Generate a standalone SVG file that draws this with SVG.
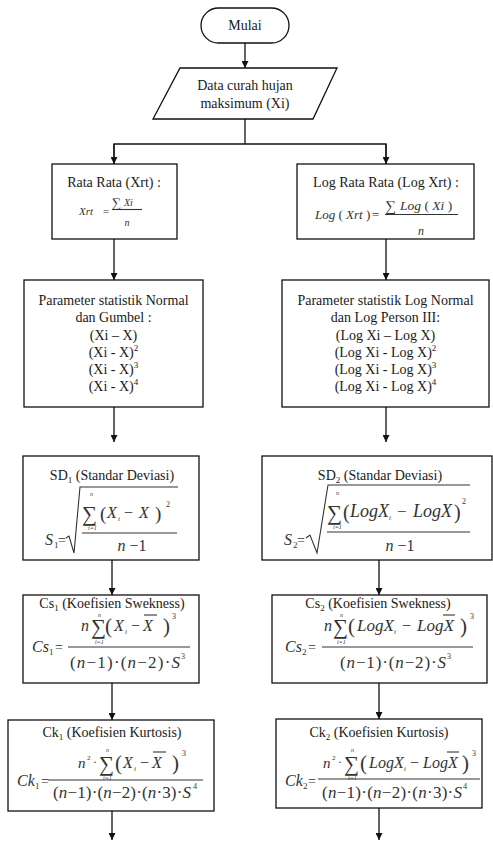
<svg xmlns="http://www.w3.org/2000/svg" width="493" height="841" viewBox="0 0 493 841">
<style>
.shape{fill:#fff;stroke:#111;stroke-width:1.3}
.conn{fill:none;stroke:#111;stroke-width:1.3}
.lbl{font-family:'Liberation Serif','DejaVu Serif',serif;font-size:14px;fill:#1a1a1a;text-anchor:middle}
.m{font-family:'Liberation Serif','DejaVu Serif',serif;font-style:italic;fill:#333}
.r{font-family:'Liberation Serif','DejaVu Serif',serif;fill:#333}
.lim{font-family:'Liberation Serif','DejaVu Serif',serif;font-size:6px;fill:#333;font-style:italic}
.bar{stroke:#333;stroke-width:1.1;fill:none}
</style>
<defs>
<marker id="ah" viewBox="0 0 10 10" refX="10" refY="5" markerWidth="8" markerHeight="7" markerUnits="userSpaceOnUse" orient="auto">
<path d="M0,0 L10,5 L0,10 z" fill="#111"/>
</marker>
</defs>

<g id="connectors">
<line class="conn" x1="245" y1="43" x2="245" y2="68" marker-end="url(#ah)"/>
<polyline class="conn" points="245,119 245,144"/>
<polyline class="conn" points="114,164 114,144 386,144 386,164"/>
<line class="conn" x1="114" y1="144" x2="114" y2="164" marker-end="url(#ah)"/>
<line class="conn" x1="386" y1="144" x2="386" y2="164" marker-end="url(#ah)"/>
<line class="conn" x1="114" y1="239" x2="114" y2="280" marker-end="url(#ah)"/>
<line class="conn" x1="386" y1="239" x2="386" y2="280" marker-end="url(#ah)"/>
<line class="conn" x1="114" y1="407" x2="114" y2="442" marker-end="url(#ah)"/>
<line class="conn" x1="386" y1="407" x2="386" y2="442" marker-end="url(#ah)"/>
<line class="conn" x1="112" y1="560" x2="112" y2="595" marker-end="url(#ah)"/>
<line class="conn" x1="379" y1="560" x2="379" y2="595" marker-end="url(#ah)"/>
<line class="conn" x1="112" y1="683" x2="112" y2="720" marker-end="url(#ah)"/>
<line class="conn" x1="379" y1="683" x2="379" y2="719" marker-end="url(#ah)"/>
<line class="conn" x1="112" y1="811" x2="112" y2="840" marker-end="url(#ah)"/>
<line class="conn" x1="379" y1="808" x2="379" y2="840" marker-end="url(#ah)"/>
</g>

<g id="mulai">
<rect class="shape" x="201" y="8" width="88" height="35" rx="17.5"/>
<text class="lbl" x="245" y="30">Mulai</text>
</g>

<g id="data">
<polygon class="shape" points="180,68 337,68 313,119 153,119"/>
<text class="lbl" x="245" y="90">Data curah hujan</text>
<text class="lbl" x="245" y="108">maksimum (Xi)</text>
</g>

<g id="rata-rata">
<rect class="shape" x="52" y="164" width="125" height="75"/>
<text class="lbl" x="114" y="187">Rata Rata (Xrt) :</text>
<text class="m" x="79" y="215" font-size="11">Xrt</text>
<text class="r" x="103" y="215" font-size="11">=</text>
<text class="r" x="112" y="207" font-size="13">∑</text>
<text class="m" x="124" y="206" font-size="10">Xi</text>
<line class="bar" x1="112" y1="209.5" x2="142" y2="209.5"/>
<text class="m" x="127" y="226" font-size="10" text-anchor="middle">n</text>
</g>

<g id="log-rata-rata">
<rect class="shape" x="297" y="164" width="177" height="75"/>
<text class="lbl" x="386" y="187">Log Rata Rata (Log Xrt) :</text>
<text class="m" x="315" y="219" font-size="13">Log <tspan font-style="normal">(</tspan> Xrt <tspan font-style="normal">)</tspan></text>
<text class="r" x="372" y="219" font-size="13">=</text>
<text class="r" x="385" y="211" font-size="15">∑</text>
<text class="m" x="400" y="210" font-size="13.5">Log <tspan font-style="normal">(</tspan> Xi <tspan font-style="normal">)</tspan></text>
<line class="bar" x1="385" y1="214.5" x2="458" y2="214.5"/>
<text class="m" x="421" y="235" font-size="12" text-anchor="middle">n</text>
</g>

<g id="param-normal">
<rect class="shape" x="24" y="280" width="179" height="127"/>
<text class="lbl" x="113.5" y="305">Parameter statistik Normal</text>
<text class="lbl" x="113.5" y="322">dan Gumbel :</text>
<text class="lbl" x="113.5" y="339.5">(Xi – X)</text>
<text class="lbl" x="113.5" y="357">(Xi - X)<tspan font-size="9" dy="-6">2</tspan></text>
<text class="lbl" x="113.5" y="374">(Xi - X)<tspan font-size="9" dy="-6">3</tspan></text>
<text class="lbl" x="113.5" y="391">(Xi - X)<tspan font-size="9" dy="-6">4</tspan></text>
</g>

<g id="param-log">
<rect class="shape" x="282" y="280" width="207" height="127"/>
<text class="lbl" x="385.5" y="305">Parameter statistik Log Normal</text>
<text class="lbl" x="385.5" y="322">dan Log Person III:</text>
<text class="lbl" x="385.5" y="339.5">(Log Xi – Log X)</text>
<text class="lbl" x="385.5" y="357">(Log Xi - Log X)<tspan font-size="9" dy="-6">2</tspan></text>
<text class="lbl" x="385.5" y="374">(Log Xi - Log X)<tspan font-size="9" dy="-6">3</tspan></text>
<text class="lbl" x="385.5" y="391">(Log Xi - Log X)<tspan font-size="9" dy="-6">4</tspan></text>
</g>

<g id="sd1">
<rect class="shape" x="23" y="456" width="176" height="104"/>
<text class="lbl" x="112" y="480">SD<tspan font-size="9" dy="3">1</tspan><tspan dy="-3"> (Standar Deviasi)</tspan></text>
<text class="m" x="45" y="545" font-size="16">S</text>
<text class="r" x="54" y="548" font-size="9">1</text>
<text class="r" x="58" y="545" font-size="14">=</text>
<path class="bar" d="M66,538 L69,536 L74,553 L80,487 L178,487"/>
<text class="r" x="82" y="521" font-size="21">∑</text>
<text class="lim" x="90" y="496">n</text>
<text class="lim" x="88" y="530">i=1</text>
<text class="r" x="100" y="520" font-size="19">(</text>
<text class="m" x="107" y="518" font-size="16">X</text>
<text class="m" x="118" y="521" font-size="7">i</text>
<text class="r" x="124" y="518" font-size="16">−</text>
<text class="m" x="139" y="518" font-size="16">X</text>
<text class="r" x="155" y="520" font-size="19">)</text>
<text class="r" x="166" y="507" font-size="8">2</text>
<line class="bar" x1="82" y1="533" x2="177" y2="533"/>
<text class="r" x="132" y="551" font-size="16" text-anchor="middle"><tspan font-style="italic">n</tspan> −1</text>
</g>

<g id="sd2">
<rect class="shape" x="262" y="456" width="230" height="104"/>
<text class="lbl" x="380" y="480">SD<tspan font-size="9" dy="3">2</tspan><tspan dy="-3"> (Standar Deviasi)</tspan></text>
<text class="m" x="284" y="545" font-size="16">S</text>
<text class="r" x="293" y="548" font-size="9">2</text>
<text class="r" x="297" y="545" font-size="14">=</text>
<path class="bar" d="M306,538 L310,535 L317,553 L328,485 L470,485"/>
<text class="r" x="327" y="520" font-size="21">∑</text>
<text class="lim" x="336" y="495">n</text>
<text class="lim" x="333" y="529">i=1</text>
<text class="r" x="343" y="519" font-size="20">(</text>
<text class="m" x="350" y="517" font-size="18">LogX</text>
<text class="m" x="389" y="520" font-size="7">i</text>
<text class="r" x="397" y="517" font-size="17">−</text>
<text class="m" x="413" y="517" font-size="18">LogX</text>
<text class="r" x="454" y="519" font-size="20">)</text>
<text class="r" x="462" y="504" font-size="8">2</text>
<line class="bar" x1="327" y1="532" x2="470" y2="532"/>
<text class="r" x="400" y="551" font-size="16" text-anchor="middle"><tspan font-style="italic">n</tspan> −1</text>
</g>

<g id="cs1">
<rect class="shape" x="23" y="595" width="176" height="88"/>
<text class="lbl" x="112" y="608">Cs<tspan font-size="9" dy="3">1</tspan><tspan dy="-3"> (Koefisien Swekness)</tspan></text>
<text class="m" x="81" y="631" font-size="16">n</text>
<text class="r" x="91" y="634" font-size="21">∑</text>
<text class="lim" x="98" y="617">n</text>
<text class="lim" x="95" y="644">i=1</text>
<text class="r" x="105" y="633" font-size="21">(</text>
<text class="m" x="114" y="631" font-size="16">X</text>
<text class="m" x="125" y="634" font-size="7">i</text>
<text class="r" x="131" y="631" font-size="16">−</text>
<text class="m" x="143" y="631" font-size="16">X</text>
<line class="bar" x1="144" y1="615" x2="157" y2="615"/>
<text class="r" x="163" y="633" font-size="21">)</text>
<text class="r" x="172" y="619" font-size="8">3</text>
<text class="m" x="32" y="652" font-size="16">Cs</text>
<text class="r" x="49" y="655" font-size="9">1</text>
<text class="r" x="55" y="652" font-size="14">=</text>
<line class="bar" x1="68" y1="647" x2="190" y2="647"/>
<text class="r" x="70" y="668" font-size="17" textLength="110" lengthAdjust="spacing">(<tspan font-style="italic">n</tspan>−1)·(<tspan font-style="italic">n</tspan>−2)·<tspan font-style="italic">S</tspan></text>
<text class="r" x="181" y="659" font-size="8">3</text>
</g>

<g id="cs2">
<rect class="shape" x="272" y="595" width="215" height="88"/>
<text class="lbl" x="378" y="608">Cs<tspan font-size="9" dy="3">2</tspan><tspan dy="-3"> (Koefisien Swekness)</tspan></text>
<text class="m" x="324" y="631" font-size="16">n</text>
<text class="r" x="333" y="634" font-size="21">∑</text>
<text class="lim" x="340" y="617">n</text>
<text class="lim" x="337" y="644">i=1</text>
<text class="r" x="348" y="633" font-size="21">(</text>
<text class="m" x="357" y="631" font-size="17">LogX</text>
<text class="m" x="394" y="634" font-size="7">i</text>
<text class="r" x="402" y="631" font-size="16">−</text>
<text class="m" x="417" y="631" font-size="17">LogX</text>
<line class="bar" x1="443" y1="615" x2="455" y2="615"/>
<text class="r" x="460" y="633" font-size="21">)</text>
<text class="r" x="470" y="619" font-size="8">3</text>
<text class="m" x="285" y="652" font-size="16">Cs</text>
<text class="r" x="302" y="655" font-size="9">2</text>
<text class="r" x="308" y="652" font-size="14">=</text>
<line class="bar" x1="322" y1="647" x2="473" y2="647"/>
<text class="r" x="340" y="668" font-size="17" textLength="106" lengthAdjust="spacing">(<tspan font-style="italic">n</tspan>−1)·(<tspan font-style="italic">n</tspan>−2)·<tspan font-style="italic">S</tspan></text>
<text class="r" x="447" y="659" font-size="8">3</text>
</g>

<g id="ck1">
<rect class="shape" x="8" y="720" width="206" height="91"/>
<text class="lbl" x="112" y="737">Ck<tspan font-size="9" dy="3">1</tspan><tspan dy="-3"> (Koefisien Kurtosis)</tspan></text>
<text class="m" x="78" y="768" font-size="15">n</text>
<text class="r" x="87" y="760" font-size="7">2</text>
<text class="r" x="93" y="766" font-size="12">·</text>
<text class="r" x="99" y="771" font-size="21">∑</text>
<text class="lim" x="106" y="752">n</text>
<text class="lim" x="103" y="780">i=1</text>
<text class="r" x="115" y="770" font-size="21">(</text>
<text class="m" x="123" y="768" font-size="16">X</text>
<text class="m" x="134" y="771" font-size="7">i</text>
<text class="r" x="140" y="768" font-size="16">−</text>
<text class="m" x="152" y="768" font-size="16">X</text>
<line class="bar" x1="153" y1="752" x2="166" y2="752"/>
<text class="r" x="172" y="770" font-size="21">)</text>
<text class="r" x="182" y="756" font-size="8">3</text>
<text class="m" x="17" y="786" font-size="16">Ck</text>
<text class="r" x="35" y="789" font-size="9">1</text>
<text class="r" x="41" y="786" font-size="14">=</text>
<line class="bar" x1="48" y1="780" x2="203" y2="780"/>
<text class="r" x="53" y="798" font-size="17" textLength="138" lengthAdjust="spacing">(<tspan font-style="italic">n</tspan>−1)·(<tspan font-style="italic">n</tspan>−2)·(<tspan font-style="italic">n</tspan>·3)·<tspan font-style="italic">S</tspan></text>
<text class="r" x="193" y="789" font-size="8">4</text>
</g>

<g id="ck2">
<rect class="shape" x="276" y="719" width="206" height="89"/>
<text class="lbl" x="379" y="737">Ck<tspan font-size="9" dy="3">2</tspan><tspan dy="-3"> (Koefisien Kurtosis)</tspan></text>
<text class="m" x="323" y="768" font-size="15">n</text>
<text class="r" x="332" y="760" font-size="7">2</text>
<text class="r" x="338" y="766" font-size="12">·</text>
<text class="r" x="344" y="771" font-size="21">∑</text>
<text class="lim" x="351" y="752">n</text>
<text class="lim" x="348" y="780">i=1</text>
<text class="r" x="360" y="770" font-size="21">(</text>
<text class="m" x="369" y="768" font-size="16">LogX</text>
<text class="m" x="404" y="771" font-size="7">i</text>
<text class="r" x="410" y="768" font-size="16">−</text>
<text class="m" x="423" y="768" font-size="16">LogX</text>
<line class="bar" x1="447" y1="752" x2="459" y2="752"/>
<text class="r" x="462" y="770" font-size="21">)</text>
<text class="r" x="472" y="756" font-size="8">3</text>
<text class="m" x="285" y="786" font-size="16">Ck</text>
<text class="r" x="303" y="789" font-size="9">2</text>
<text class="r" x="308" y="786" font-size="14">=</text>
<line class="bar" x1="318" y1="779" x2="480" y2="779"/>
<text class="r" x="322" y="798" font-size="17" textLength="140" lengthAdjust="spacing">(<tspan font-style="italic">n</tspan>−1)·(<tspan font-style="italic">n</tspan>−2)·(<tspan font-style="italic">n</tspan>·3)·<tspan font-style="italic">S</tspan></text>
<text class="r" x="463" y="789" font-size="8">4</text>
</g>
</svg>
